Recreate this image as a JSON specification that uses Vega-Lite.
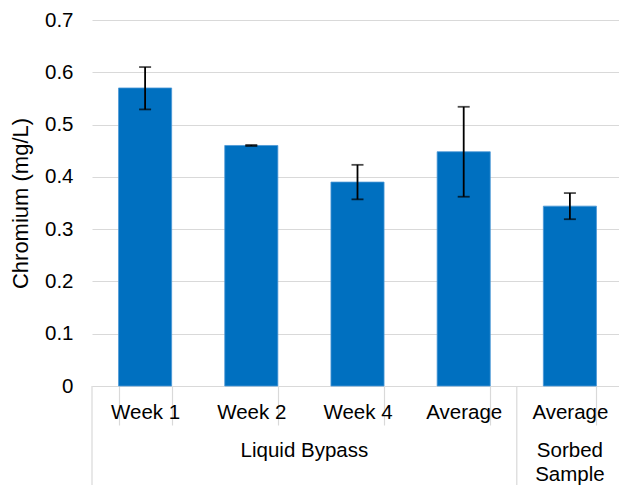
{
  "$schema": "https://vega.github.io/schema/vega-lite/v6.json",
  "width": 527,
  "height": 366,
  "autosize": {"type": "none"},
  "padding": {"left": 92, "top": 20, "right": 0, "bottom": 99},
  "background": "white",
  "config": {
    "view": {"stroke": null},
    "font": "Liberation Sans"
  },
  "data": {
    "values": [
      {"group": "Liquid Bypass", "cat": "Week 1", "value": 0.57, "lo": 0.529, "hi": 0.61},
      {"group": "Liquid Bypass", "cat": "Week 2", "value": 0.46, "lo": 0.459, "hi": 0.461},
      {"group": "Liquid Bypass", "cat": "Week 4", "value": 0.39, "lo": 0.357, "hi": 0.423},
      {"group": "Liquid Bypass", "cat": "Average", "value": 0.448, "lo": 0.362, "hi": 0.534},
      {"group": "Sorbed Sample", "cat": "Average (Sorbed)", "value": 0.344, "lo": 0.319, "hi": 0.369}
    ]
  },
  "encoding": {
    "x": {
      "field": "cat",
      "type": "nominal",
      "sort": null,
      "scale": {"paddingInner": 0.5, "paddingOuter": 0.25, "range": [0, 531]},
      "axis": {
        "title": null,
        "labelAngle": 0,
        "labelFontSize": 20.5,
        "labelColor": "#000000",
        "labelBaseline": "alphabetic",
        "labelPadding": -7,
        "labelExpr": "datum.label == 'Average (Sorbed)' ? 'Average' : datum.label",
        "domainColor": "#d9d9d9",
        "domainWidth": 1.2,
        "tickColor": "#d9d9d9",
        "tickWidth": 1.2,
        "tickSize": 39,
        "tickBand": "extent"
      }
    }
  },
  "layer": [
    {
      "mark": {"type": "bar", "color": "#0070C0", "stroke": "#4A97D6", "strokeWidth": 0.8},
      "encoding": {
        "y": {
          "field": "value",
          "type": "quantitative",
          "scale": {"domain": [0, 0.7], "nice": false},
          "axis": {
            "title": "Chromium (mg/L)",
            "titleFontSize": 22,
            "titleFontWeight": "normal",
            "titleColor": "#000000",
            "titlePadding": 12,
            "values": [0, 0.1, 0.2, 0.3, 0.4, 0.5, 0.6, 0.7],
            "format": ".1~f",
            "labelFontSize": 20.5,
            "labelColor": "#000000",
            "labelPadding": 19,
            "ticks": false,
            "tickSize": 0,
            "domain": false,
            "grid": true,
            "gridColor": "#d9d9d9",
            "gridWidth": 1.2
          }
        }
      }
    },
    {
      "mark": {"type": "rule", "color": "#000000", "strokeWidth": 1.8},
      "encoding": {
        "y": {"field": "lo", "type": "quantitative"},
        "y2": {"field": "hi"}
      }
    },
    {
      "transform": [{"fold": ["lo", "hi"], "as": ["end", "bound"]}],
      "mark": {"type": "tick", "color": "#000000", "size": 12, "thickness": 1.8},
      "encoding": {
        "y": {"field": "bound", "type": "quantitative"}
      }
    },
    {
      "transform": [{"filter": "datum.cat == 'Week 1' || datum.cat == 'Average (Sorbed)'"}],
      "mark": {"type": "rule", "color": "#d9d9d9", "strokeWidth": 1.2},
      "encoding": {
        "x": {"field": "cat", "type": "nominal", "sort": null, "bandPosition": -0.5},
        "y": {"datum": 0},
        "y2": {"datum": -0.19}
      }
    },
    {
      "transform": [{"filter": "datum.cat == 'Week 4'"}],
      "mark": {"type": "text", "fontSize": 20.5, "color": "#000000", "baseline": "alphabetic", "align": "center"},
      "encoding": {
        "x": {"field": "cat", "type": "nominal", "sort": null, "bandPosition": -0.5},
        "y": {"datum": -0.1358},
        "text": {"field": "group"}
      }
    },
    {
      "transform": [{"filter": "datum.cat == 'Average (Sorbed)'"}],
      "mark": {"type": "text", "fontSize": 20.5, "color": "#000000", "baseline": "alphabetic", "align": "center", "lineBreak": " ", "lineHeight": 24},
      "encoding": {
        "x": {"field": "cat", "type": "nominal", "sort": null},
        "y": {"datum": -0.1358},
        "text": {"field": "group"}
      }
    }
  ]
}
